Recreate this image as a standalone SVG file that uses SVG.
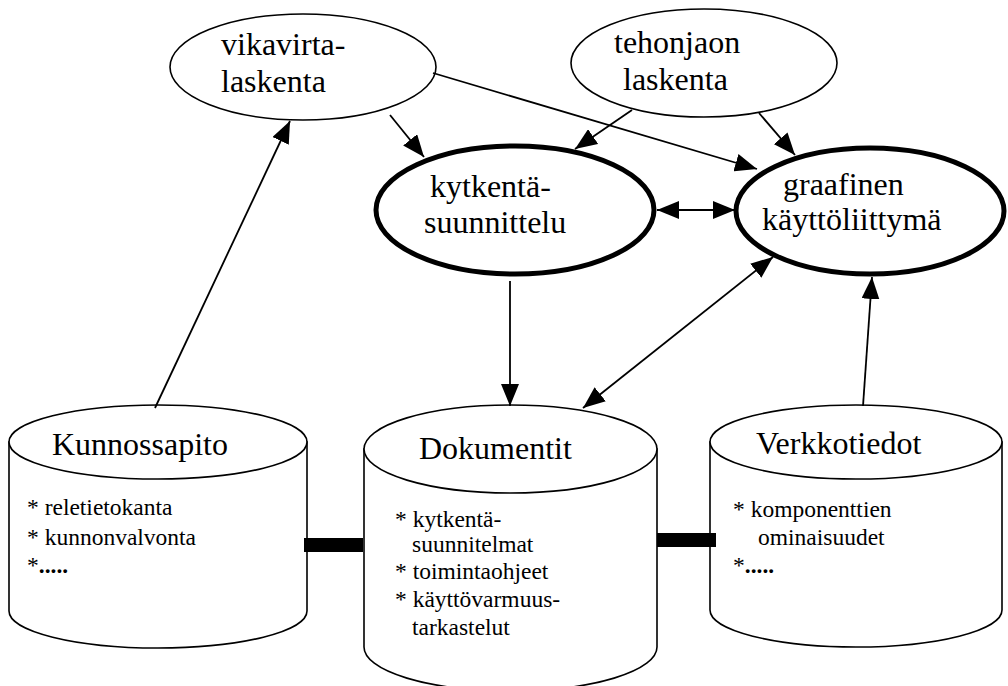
<svg xmlns="http://www.w3.org/2000/svg" width="1008" height="686" viewBox="0 0 1008 686">
  <style>
    text { font-family: "Liberation Serif", "Times New Roman", serif; fill: #000; }
    .lbl { font-size: 32px; }
    .title { font-size: 32px; }
    .item { font-size: 23.5px; }
    .thin { fill: #fff; stroke: #000; stroke-width: 1.6; }
    .thick { fill: #fff; stroke: #000; stroke-width: 5; }
    .conn { stroke: #000; stroke-width: 1.8; fill: none; }
  </style>
  <defs>
    <marker id="arrow" viewBox="0 0 22 18" refX="22" refY="9" markerWidth="22" markerHeight="18" markerUnits="userSpaceOnUse" orient="auto-start-reverse">
      <path d="M0,0 L22,9 L0,18 z" fill="#000"/>
    </marker>
  </defs>

  <rect width="1008" height="686" fill="#fff"/>

  <!-- process nodes -->
  <g id="vikavirta">
    <ellipse class="thin" cx="303" cy="67" rx="133" ry="53"/>
    <text class="lbl" x="221" y="55">vikavirta-</text>
    <text class="lbl" x="221" y="92">laskenta</text>
  </g>
  <g id="tehonjaon">
    <ellipse class="thin" cx="704" cy="63" rx="133" ry="54"/>
    <text class="lbl" x="614" y="53">tehonjaon</text>
    <text class="lbl" x="623" y="90">laskenta</text>
  </g>
  <g id="kytkenta">
    <ellipse class="thick" cx="515" cy="210" rx="139" ry="64"/>
    <text class="lbl" x="430" y="197">kytkentä-</text>
    <text class="lbl" x="424" y="233">suunnittelu</text>
  </g>
  <g id="graafinen">
    <ellipse class="thick" cx="870" cy="211" rx="134" ry="63"/>
    <text class="lbl" x="783" y="195">graafinen</text>
    <text class="lbl" x="762" y="230">käyttöliittymä</text>
  </g>

  <!-- data stores -->
  <g id="kunnossapito">
    <path class="thin" d="M9,442 L9,611 A149,37 0 0 0 307,611 L307,442 Z"/>
    <ellipse class="thin" cx="158" cy="442" rx="149" ry="37"/>
    <text class="title" x="52" y="455">Kunnossapito</text>
    <text class="item" x="27" y="515">* reletietokanta</text>
    <text class="item" x="27" y="545">* kunnonvalvonta</text>
    <text class="item" x="27" y="573">*<tspan font-weight="bold">.....</tspan></text>
  </g>
  <g id="dokumentit">
    <path class="thin" d="M364,449 L364,647 A146.5,44 0 0 0 657,647 L657,449 Z"/>
    <ellipse class="thin" cx="510.5" cy="449" rx="146.5" ry="44"/>
    <text class="title" x="419" y="459">Dokumentit</text>
    <text class="item" x="395" y="527">* kytkentä-</text>
    <text class="item" x="412" y="552">suunnitelmat</text>
    <text class="item" x="395" y="579">* toimintaohjeet</text>
    <text class="item" x="395" y="607">* käyttövarmuus-</text>
    <text class="item" x="412" y="635">tarkastelut</text>
  </g>
  <g id="verkkotiedot">
    <path class="thin" d="M710,442 L710,610 A146,37 0 0 0 1002,610 L1002,442 Z"/>
    <ellipse class="thin" cx="856" cy="442" rx="146" ry="37"/>
    <text class="title" x="756" y="454">Verkkotiedot</text>
    <text class="item" x="733" y="517">* komponenttien</text>
    <text class="item" x="758" y="545">ominaisuudet</text>
    <text class="item" x="733" y="573">*<tspan font-weight="bold">.....</tspan></text>
  </g>

  <!-- connectors -->
  <g id="connectors">
    <line class="conn" x1="155" y1="408" x2="290" y2="121" marker-end="url(#arrow)"/>
    <line class="conn" x1="390" y1="115" x2="424" y2="157" marker-end="url(#arrow)"/>
    <line class="conn" x1="433" y1="73" x2="757" y2="169" marker-end="url(#arrow)"/>
    <line class="conn" x1="632" y1="110" x2="575" y2="149" marker-end="url(#arrow)"/>
    <line class="conn" x1="759" y1="113" x2="795" y2="155" marker-end="url(#arrow)"/>
    <line class="conn" x1="657" y1="210" x2="735" y2="210" marker-start="url(#arrow)" marker-end="url(#arrow)"/>
    <line class="conn" x1="510" y1="281" x2="510" y2="406" marker-end="url(#arrow)"/>
    <line class="conn" x1="583" y1="408" x2="773" y2="257" marker-start="url(#arrow)" marker-end="url(#arrow)"/>
    <line class="conn" x1="863" y1="406" x2="872" y2="277" marker-end="url(#arrow)"/>
    <rect x="304" y="538" width="59" height="14" fill="#000"/>
    <rect x="657" y="533" width="59" height="14" fill="#000"/>
  </g>
</svg>
